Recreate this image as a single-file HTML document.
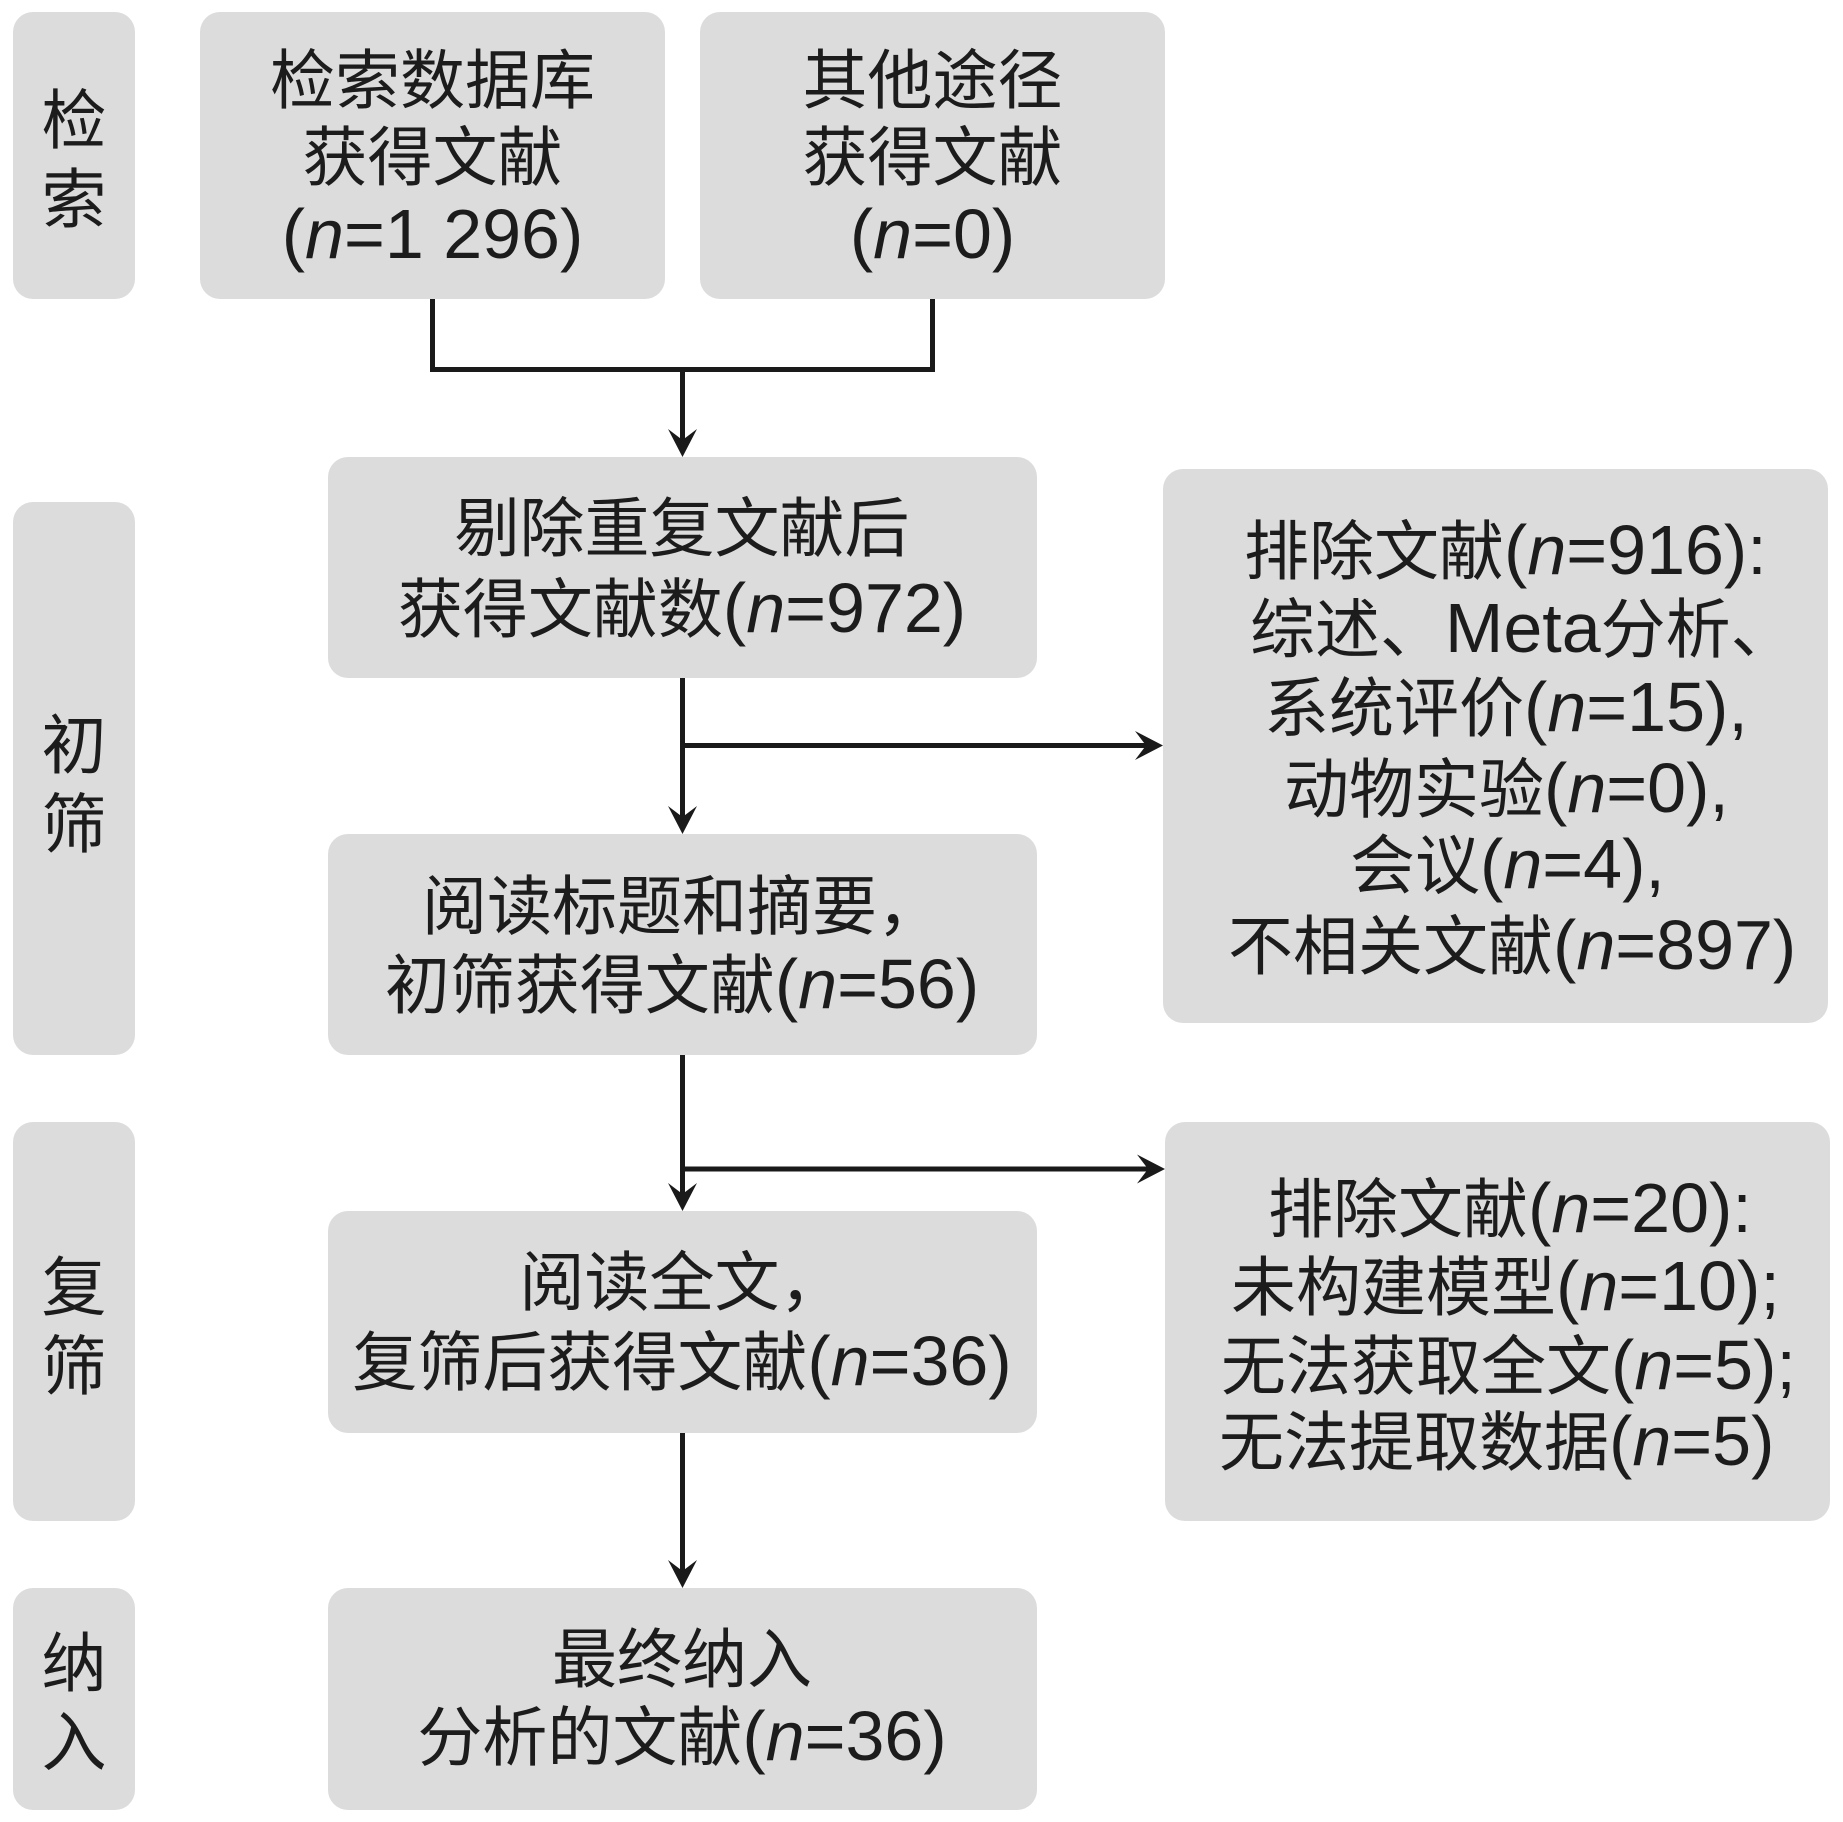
<!DOCTYPE html>
<html>
<head>
<meta charset="utf-8">
<style>
html,body{margin:0;padding:0;background:#fff;}
body{width:1843px;height:1822px;position:relative;overflow:hidden;
font-family:"Liberation Sans","Noto Sans CJK SC",sans-serif;color:#1c1c1c;}
.b{position:absolute;background:#dddcdd;border-radius:20px;}
.t{position:absolute;height:78px;line-height:78px;font-size:65px;white-space:nowrap;}
.c{width:800px;text-align:center;}
.l{font-size:70px;line-height:70px;}
svg{position:absolute;left:0;top:0;}
</style>
</head>
<body>
<!-- label boxes -->
<div class="b" style="left:13px;top:12px;width:122px;height:287px;"></div>
<div class="b" style="left:13px;top:502px;width:122px;height:553px;"></div>
<div class="b" style="left:13px;top:1122px;width:122px;height:399px;"></div>
<div class="b" style="left:13px;top:1588px;width:122px;height:222px;"></div>

<!-- main boxes -->
<div class="b" style="left:200px;top:12px;width:465px;height:287px;"></div>
<div class="b" style="left:700px;top:12px;width:465px;height:287px;"></div>
<div class="b" style="left:328px;top:457px;width:709px;height:221px;"></div>
<div class="b" style="left:328px;top:834px;width:709px;height:221px;"></div>
<div class="b" style="left:328px;top:1211px;width:709px;height:222px;"></div>
<div class="b" style="left:328px;top:1588px;width:709px;height:222px;"></div>
<div class="b" style="left:1163px;top:469px;width:665px;height:554px;"></div>
<div class="b" style="left:1165px;top:1122px;width:665px;height:399px;"></div>

<!-- connectors -->
<svg width="1843" height="1822" viewBox="0 0 1843 1822">
<g stroke="#1a1a1a" stroke-width="5" fill="none" stroke-linecap="butt">
<polyline points="432.5,299 432.5,369.5 932.5,369.5 932.5,299"/>
<line x1="682.5" y1="369.5" x2="682.5" y2="442"/>
<line x1="682.5" y1="678" x2="682.5" y2="819"/>
<line x1="682.5" y1="745.5" x2="1146" y2="745.5"/>
<line x1="682.5" y1="1055" x2="682.5" y2="1196"/>
<line x1="682.5" y1="1169" x2="1148" y2="1169"/>
<line x1="682.5" y1="1433" x2="682.5" y2="1573"/>
</g>
<g fill="#1a1a1a">
<polygon points="668,429 682.5,440 697,429 682.5,457"/>
<polygon points="668,806 682.5,817 697,806 682.5,834"/>
<polygon points="668,1183 682.5,1194 697,1183 682.5,1211"/>
<polygon points="668,1560 682.5,1571 697,1560 682.5,1588"/>
<polygon points="1135,731 1146,745.5 1135,760 1163,745.5"/>
<polygon points="1137,1154.5 1148,1169 1137,1183.5 1165,1169"/>
</g>
</svg>

<!-- label text -->
<div class="t c" style="left:-326px;top:81.5px;">检</div>
<div class="t c" style="left:-326px;top:160.5px;">索</div>
<div class="t c" style="left:-326px;top:706.5px;">初</div>
<div class="t c" style="left:-326px;top:785.5px;">筛</div>
<div class="t c" style="left:-326px;top:1248.5px;">复</div>
<div class="t c" style="left:-326px;top:1327.5px;">筛</div>
<div class="t c" style="left:-326px;top:1624.5px;">纳</div>
<div class="t c" style="left:-326px;top:1703.5px;">入</div>

<!-- box1 -->
<div class="t c" style="left:32.5px;top:41.5px;">检索数据库</div>
<div class="t c" style="left:32.5px;top:118.5px;">获得文献</div>
<div class="t c" style="left:32.5px;top:196.5px;"><span class="l">(<i>n</i>=1 296)</span></div>

<!-- box2 -->
<div class="t c" style="left:532.5px;top:41.5px;">其他途径</div>
<div class="t c" style="left:532.5px;top:118.5px;">获得文献</div>
<div class="t c" style="left:532.5px;top:196.5px;"><span class="l">(<i>n</i>=0)</span></div>

<!-- box3 -->
<div class="t c" style="left:282px;top:489.5px;">剔除重复文献后</div>
<div class="t c" style="left:282px;top:570.5px;">获得文献数<span class="l">(<i>n</i>=972)</span></div>

<!-- box4 -->
<div class="t c" style="left:282px;top:867.5px;">阅读标题和摘要，</div>
<div class="t c" style="left:282px;top:946.5px;">初筛获得文献<span class="l">(<i>n</i>=56)</span></div>

<!-- box6 -->
<div class="t c" style="left:282px;top:1243.5px;">阅读全文，</div>
<div class="t c" style="left:282px;top:1323.5px;">复筛后获得文献<span class="l">(<i>n</i>=36)</span></div>

<!-- box7 -->
<div class="t c" style="left:282px;top:1620.5px;">最终纳入</div>
<div class="t c" style="left:282px;top:1698.5px;">分析的文献<span class="l">(<i>n</i>=36)</span></div>

<!-- box5 -->
<div class="t" style="left:1244px;top:512.5px;">排除文献<span class="l">(<i>n</i>=916):</span></div>
<div class="t" style="left:1250px;top:590.5px;">综述、<span class="l">Meta</span>分析、</div>
<div class="t" style="left:1264px;top:669.5px;">系统评价<span class="l">(<i>n</i>=15),</span></div>
<div class="t" style="left:1284px;top:750.5px;">动物实验<span class="l">(<i>n</i>=0),</span></div>
<div class="t" style="left:1350px;top:826.5px;">会议<span class="l">(<i>n</i>=4),</span></div>
<div class="t" style="left:1228px;top:907.5px;">不相关文献<span class="l">(<i>n</i>=897)</span></div>

<!-- box8 -->
<div class="t" style="left:1268px;top:1170.5px;">排除文献<span class="l">(<i>n</i>=20):</span></div>
<div class="t" style="left:1231px;top:1248.5px;">未构建模型<span class="l">(<i>n</i>=10);</span></div>
<div class="t" style="left:1221px;top:1327.5px;">无法获取全文<span class="l">(<i>n</i>=5);</span></div>
<div class="t" style="left:1219px;top:1403.5px;">无法提取数据<span class="l">(<i>n</i>=5)</span></div>
</body>
</html>
